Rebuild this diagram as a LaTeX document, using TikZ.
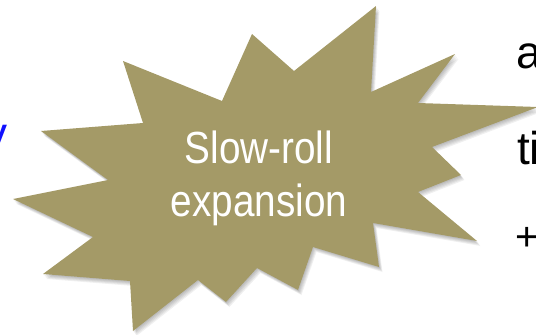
\documentclass[tikz,border=0pt]{standalone}
\usepackage{fontspec}
\setmainfont{Liberation Sans}
\newfontfamily\condfont[FakeStretch=0.86]{Liberation Sans}
\definecolor{burst}{RGB}{164,154,103}
\definecolor{textblue}{RGB}{16,16,255}
\tikzset{
  burstpath/.style={insert path={
    (41,131) -- (143,123) -- (123,61) -- (222,101) -- (252,34) -- (294,71) --
    (376,6) -- (371,92) -- (455,54) -- (418,103) -- (538,107) -- (432,147) --
    (461,175) -- (418,192) -- (477,241) -- (373,223) -- (379,267) -- (313,247) --
    (298,290) -- (257,268) -- (226,302) -- (198,280) -- (133,331) -- (130,281) --
    (43,274) -- (93,237) -- (13,199) -- (108,180) -- cycle}},
  bigtext/.style={inner sep=0pt, font=\fontsize{46}{53}\selectfont},
  sidetext/.style={bigtext, anchor=base west, text=black}
}
\begin{document}
\begin{tikzpicture}[x=1pt,y=-1pt]
\useasboundingbox (0,0) rectangle (536,335);
% soft drop shadow
\foreach \d in {1,2,3,4,5}
  \fill[black, opacity=0.06, shift={(0.7*\d,\d)}] [burstpath];
% the burst
\fill[burst] [burstpath];
\node[inner sep=0pt, font=\condfont\fontsize{45}{53}\selectfont, text=white, align=center, anchor=base] (label) at (259,216) {Slow-roll\\expansion};
\node[bigtext, anchor=base east, text=textblue] (yy) at (8,149) {y};
\node[sidetext] (aa) at (516,68) {a};
\node[sidetext] (ti) at (517,164) {ti};
\node[sidetext, font=\fontsize{40}{46}\selectfont] (plus) at (515,250) {+};
\end{tikzpicture}
\end{document}
